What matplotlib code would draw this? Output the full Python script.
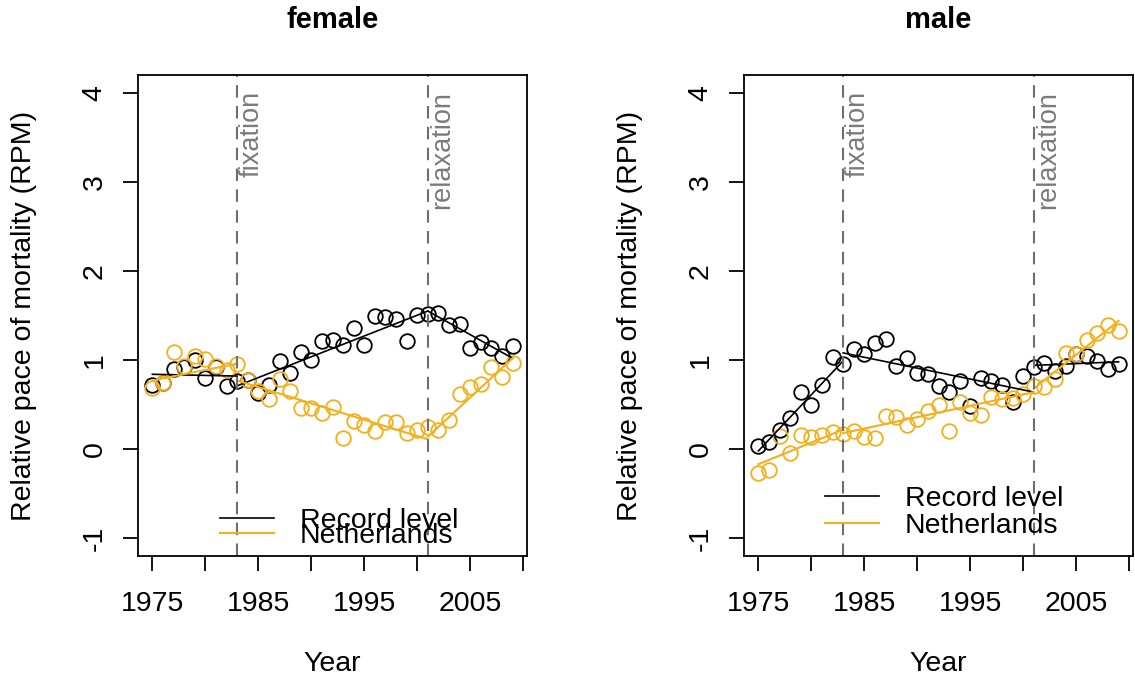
import matplotlib.pyplot as plt

plt.rcParams['font.family'] = ['Liberation Sans', 'DejaVu Sans']

years = list(range(1975, 2010))

# female
female_record = [0.72, 0.74, 0.90, 0.92, 1.00, 0.80, 0.92, 0.71, 0.76, 0.78,
                 0.63, 0.72, 0.99, 0.86, 1.09, 1.00, 1.21, 1.22, 1.17, 1.36,
                 1.17, 1.49, 1.48, 1.46, 1.21, 1.51, 1.52, 1.53, 1.39, 1.41,
                 1.13, 1.20, 1.14, 1.04, 1.16]
female_nl = [0.69, 0.74, 1.09, 0.93, 1.04, 1.01, 0.93, 0.89, 0.96, 0.78,
             0.65, 0.56, 0.79, 0.655, 0.46, 0.46, 0.40, 0.47, 0.13, 0.32,
             0.27, 0.20, 0.30, 0.30, 0.18, 0.21, 0.25, 0.22, 0.33, 0.62,
             0.70, 0.73, 0.92, 0.81, 0.97]

# male
male_record = [0.04, 0.085, 0.21, 0.35, 0.645, 0.50, 0.72, 1.03, 0.96, 1.12,
               1.07, 1.19, 1.24, 0.93, 1.02, 0.85, 0.845, 0.71, 0.645, 0.76,
               0.485, 0.80, 0.76, 0.72, 0.53, 0.82, 0.92, 0.965, 0.88, 0.935,
               1.07, 1.04, 0.985, 0.90, 0.955]
male_nl = [-0.27, -0.24, 0.15, -0.045, 0.16, 0.135, 0.16, 0.19, 0.17, 0.20,
           0.14, 0.12, 0.375, 0.365, 0.27, 0.335, 0.43, 0.50, 0.20, 0.53,
           0.40, 0.385, 0.58, 0.56, 0.57, 0.62, 0.71, 0.70, 0.79, 1.08,
           1.07, 1.225, 1.30, 1.39, 1.33]

# segmented fits (start, end) between breakpoints
breaks = [1975, 1983, 2001, 2009]
female_record_fit = [(0.84, 0.82), (0.71, 1.55), (1.55, 1.02)]
female_nl_fit = [(0.77, 0.96), (0.77, 0.11), (0.14, 1.02)]
male_record_fit = [(-0.02, 0.99), (1.08, 0.64), (0.94, 0.98)]
male_nl_fit = [(-0.17, 0.22), (0.18, 0.64), (0.68, 1.44)]

orange = '#F4AF1C'


def panel(ax, title, rec, nl, rec_fit, nl_fit, leg_anchor, leg_space):
    ax.plot(years, rec, 'o', mfc='none', mec='black', ms=10.5, mew=1.3)
    ax.plot(years, nl, 'o', mfc='none', mec=orange, ms=10.5, mew=1.3)
    for i in range(3):
        ax.plot(breaks[i:i + 2], rec_fit[i], color='black', lw=1.2,
                label='Record level' if i == 0 else None)
    for i in range(3):
        ax.plot(breaks[i:i + 2], nl_fit[i], color=orange, lw=1.5,
                label='Netherlands' if i == 0 else None)

    # breakpoints
    for b, name in [(1983, 'fixation'), (2001, 'relaxation')]:
        ax.axvline(b, color='#6e6e6e', ls=(0, (6, 4)), lw=1.5)
        ax.text(b + 0.1, 4.02, name, rotation=90, va='top', ha='left',
                color='#7a7a7a', fontsize=19.5)

    ax.set_xlim(1973.64, 2010.36)
    ax.set_ylim(-1.2, 4.2)
    ax.set_xticks(range(1975, 2011, 5),
                  ['1975', '', '1985', '', '1995', '', '2005', ''])
    ax.set_yticks(range(-1, 5), [str(v) for v in range(-1, 5)],
                  rotation=90, va='center')
    ax.tick_params(length=11, width=1.3, labelsize=20.5)
    ax.tick_params(axis='x', pad=14)
    ax.tick_params(axis='y', pad=11)
    for s in ax.spines.values():
        s.set_linewidth(1.3)

    ax.set_title(title, fontsize=21, fontweight='bold', pad=34)
    ax.set_xlabel('Year', fontsize=20.5, labelpad=25)
    ax.set_ylabel('Relative pace of mortality (RPM)', fontsize=20.5, labelpad=32)

    ax.legend(loc='upper left', bbox_to_anchor=leg_anchor, frameon=False,
              fontsize=20.5, handlelength=1.9, handletextpad=0.9,
              borderpad=0, borderaxespad=0, labelspacing=leg_space)


fig = plt.figure(figsize=(11.35, 6.76), dpi=100)
ax1 = fig.add_axes([138 / 1135, 120 / 676, 389 / 1135, 481 / 676])
ax2 = fig.add_axes([744 / 1135, 120 / 676, 389 / 1135, 481 / 676])

panel(ax1, 'female', female_record, female_nl, female_record_fit, female_nl_fit,
      (0.211, 0.100), -0.38)
panel(ax2, 'male', male_record, male_nl, male_record_fit, male_nl_fit,
      (0.208, 0.145), 0.02)

fig.savefig('out.png', dpi=100)
